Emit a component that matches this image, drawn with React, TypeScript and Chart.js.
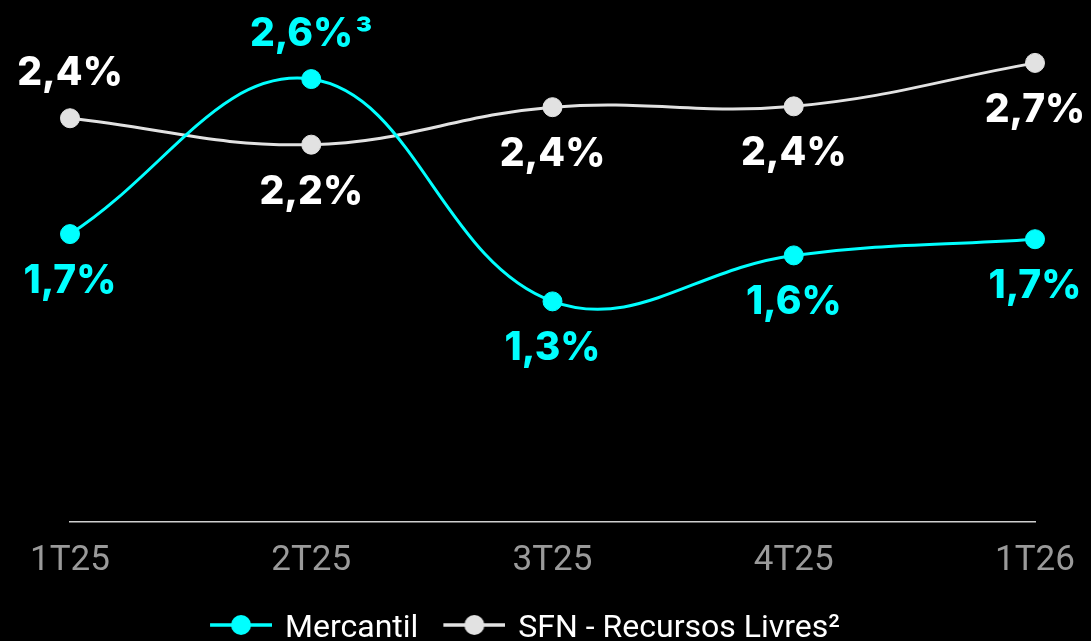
import { useEffect, useRef } from 'react';
import { Chart, registerables } from 'chart.js';

Chart.register(...registerables);

const categories = ['1T25', '2T25', '3T25', '4T25', '1T26'];
const mercantilValues = [1.69, 2.6, 1.295, 1.565, 1.66];
const sfnValues = [2.37, 2.215, 2.435, 2.44, 2.695];
const mercantilLabels = ['1,7%', '2,6%³', '1,3%', '1,6%', '1,7%'];
const sfnLabels = ['2,4%', '2,2%', '2,4%', '2,4%', '2,7%'];
const mercantilLabelSide = ['below', 'above', 'below', 'below', 'below'];
const sfnLabelSide = ['above', 'below', 'below', 'below', 'below'];
const seriesNames = ['Mercantil', 'SFN - Recursos Livres²'];
const yMin = 0;
const yMax = 2.8;

const CYAN = '#00FFFF';
const GREY = '#E2E2E2';

function makeMarker(color: string): HTMLCanvasElement {
  const c = document.createElement('canvas');
  c.width = 65;
  c.height = 32;
  const g = c.getContext('2d')!;
  g.strokeStyle = color;
  g.lineWidth = 3.5;
  g.beginPath();
  g.moveTo(3, 12);
  g.lineTo(65, 12);
  g.stroke();
  g.fillStyle = color;
  g.beginPath();
  g.arc(34, 12, 10, 0, Math.PI * 2);
  g.fill();
  return c;
}

const labelPlugin = {
  id: 'pointValueLabels',
  afterDatasetsDraw(chart: any) {
    const ctx = chart.ctx;
    chart.data.datasets.forEach((ds: any, di: number) => {
      const meta = chart.getDatasetMeta(di);
      meta.data.forEach((pt: any, i: number) => {
        const text: string = ds.pointLabels[i];
        const side = ds.labelSides[i];
        const y = side === 'above' ? pt.y - 33 : pt.y + 59;
        const m = text.match(/[¹²³]+$/);
        const main = m ? text.slice(0, -m[0].length) : text;
        const sup = m ? m[0] : '';
        const mainFont = "800 39px Inter, 'Noto Sans', sans-serif";
        const supFont = "800 36px Inter, 'Noto Sans', sans-serif";
        ctx.save();
        ctx.fillStyle = ds.labelColor;
        ctx.textAlign = 'left';
        ctx.textBaseline = 'alphabetic';
        ctx.font = mainFont;
        const mw = ctx.measureText(main).width;
        ctx.font = supFont;
        const sw = sup ? ctx.measureText(sup).width + 2 : 0;
        const x0 = pt.x - (mw + sw) / 2;
        ctx.font = mainFont;
        ctx.fillText(main, x0, y);
        if (sup) {
          ctx.font = supFont;
          ctx.fillText(sup, x0 + mw + 2, y + 1);
        }
        ctx.restore();
      });
    });
  },
};

export default function App() {
  const canvasRef = useRef<HTMLCanvasElement | null>(null);

  useEffect(() => {
    if (!canvasRef.current) return;
    const markers = [makeMarker(CYAN), makeMarker(GREY)];
    const chart = new Chart(canvasRef.current, {
      type: 'line',
      data: {
        labels: categories,
        datasets: [
          {
            label: seriesNames[0],
            data: mercantilValues,
            borderColor: CYAN,
            backgroundColor: CYAN,
            pointBackgroundColor: CYAN,
            pointBorderColor: CYAN,
            borderWidth: 3,
            pointRadius: 9.5,
            pointBorderWidth: 1,
            tension: 0.4,
            clip: false,
            pointLabels: mercantilLabels,
            labelSides: mercantilLabelSide,
            labelColor: CYAN,
          } as any,
          {
            label: seriesNames[1],
            data: sfnValues,
            borderColor: GREY,
            backgroundColor: GREY,
            pointBackgroundColor: GREY,
            pointBorderColor: GREY,
            borderWidth: 3,
            pointRadius: 9.5,
            pointBorderWidth: 1,
            tension: 0.4,
            clip: false,
            pointLabels: sfnLabels,
            labelSides: sfnLabelSide,
            labelColor: '#FFFFFF',
          } as any,
        ],
      },
      options: {
        animation: false,
        responsive: true,
        maintainAspectRatio: false,
        events: [],
        layout: { padding: { left: 15, right: 56, top: 45, bottom: -14 } },
        scales: {
          x: {
            offset: false,
            grid: { display: false },
            border: { display: true, color: '#CFCFCF', width: 1.5 },
            ticks: {
              color: '#9A9A9A',
              font: { family: 'Roboto', size: 35, weight: 'normal' as any },
              padding: 10,
              maxRotation: 0,
              autoSkip: false,
            },
            afterFit: (s: any) => {
              s.height = 66;
              s.paddingLeft = 0;
              s.paddingRight = 0;
            },
          },
          y: {
            display: true,
            min: yMin,
            max: yMax,
            grid: { display: false },
            border: { display: false },
            ticks: { display: false },
            afterFit: (s: any) => {
              s.width = 55;
            },
          },
        },
        plugins: {
          tooltip: { enabled: false },
          legend: {
            position: 'bottom',
            labels: {
              usePointStyle: true,
              pointStyleWidth: 59,
              padding: 25,
              color: '#FFFFFF',
              font: { family: 'Roboto', size: 32 },
              generateLabels: (ch: any) =>
                ch.data.datasets.map((ds: any, i: number) => ({
                  text: ds.label,
                  fillStyle: ds.borderColor,
                  strokeStyle: ds.borderColor,
                  lineWidth: 0,
                  pointStyle: markers[i],
                  hidden: false,
                  datasetIndex: i,
                  fontColor: '#FFFFFF',
                })),
            },
          },
        },
      },
      plugins: [labelPlugin],
    });
    return () => chart.destroy();
  }, []);

  return (
    <div
      style={{
        position: 'fixed',
        left: 0,
        top: 0,
        width: 1091,
        height: 641,
        background: '#000',
      }}
    >
      <canvas ref={canvasRef} />
    </div>
  );
}
